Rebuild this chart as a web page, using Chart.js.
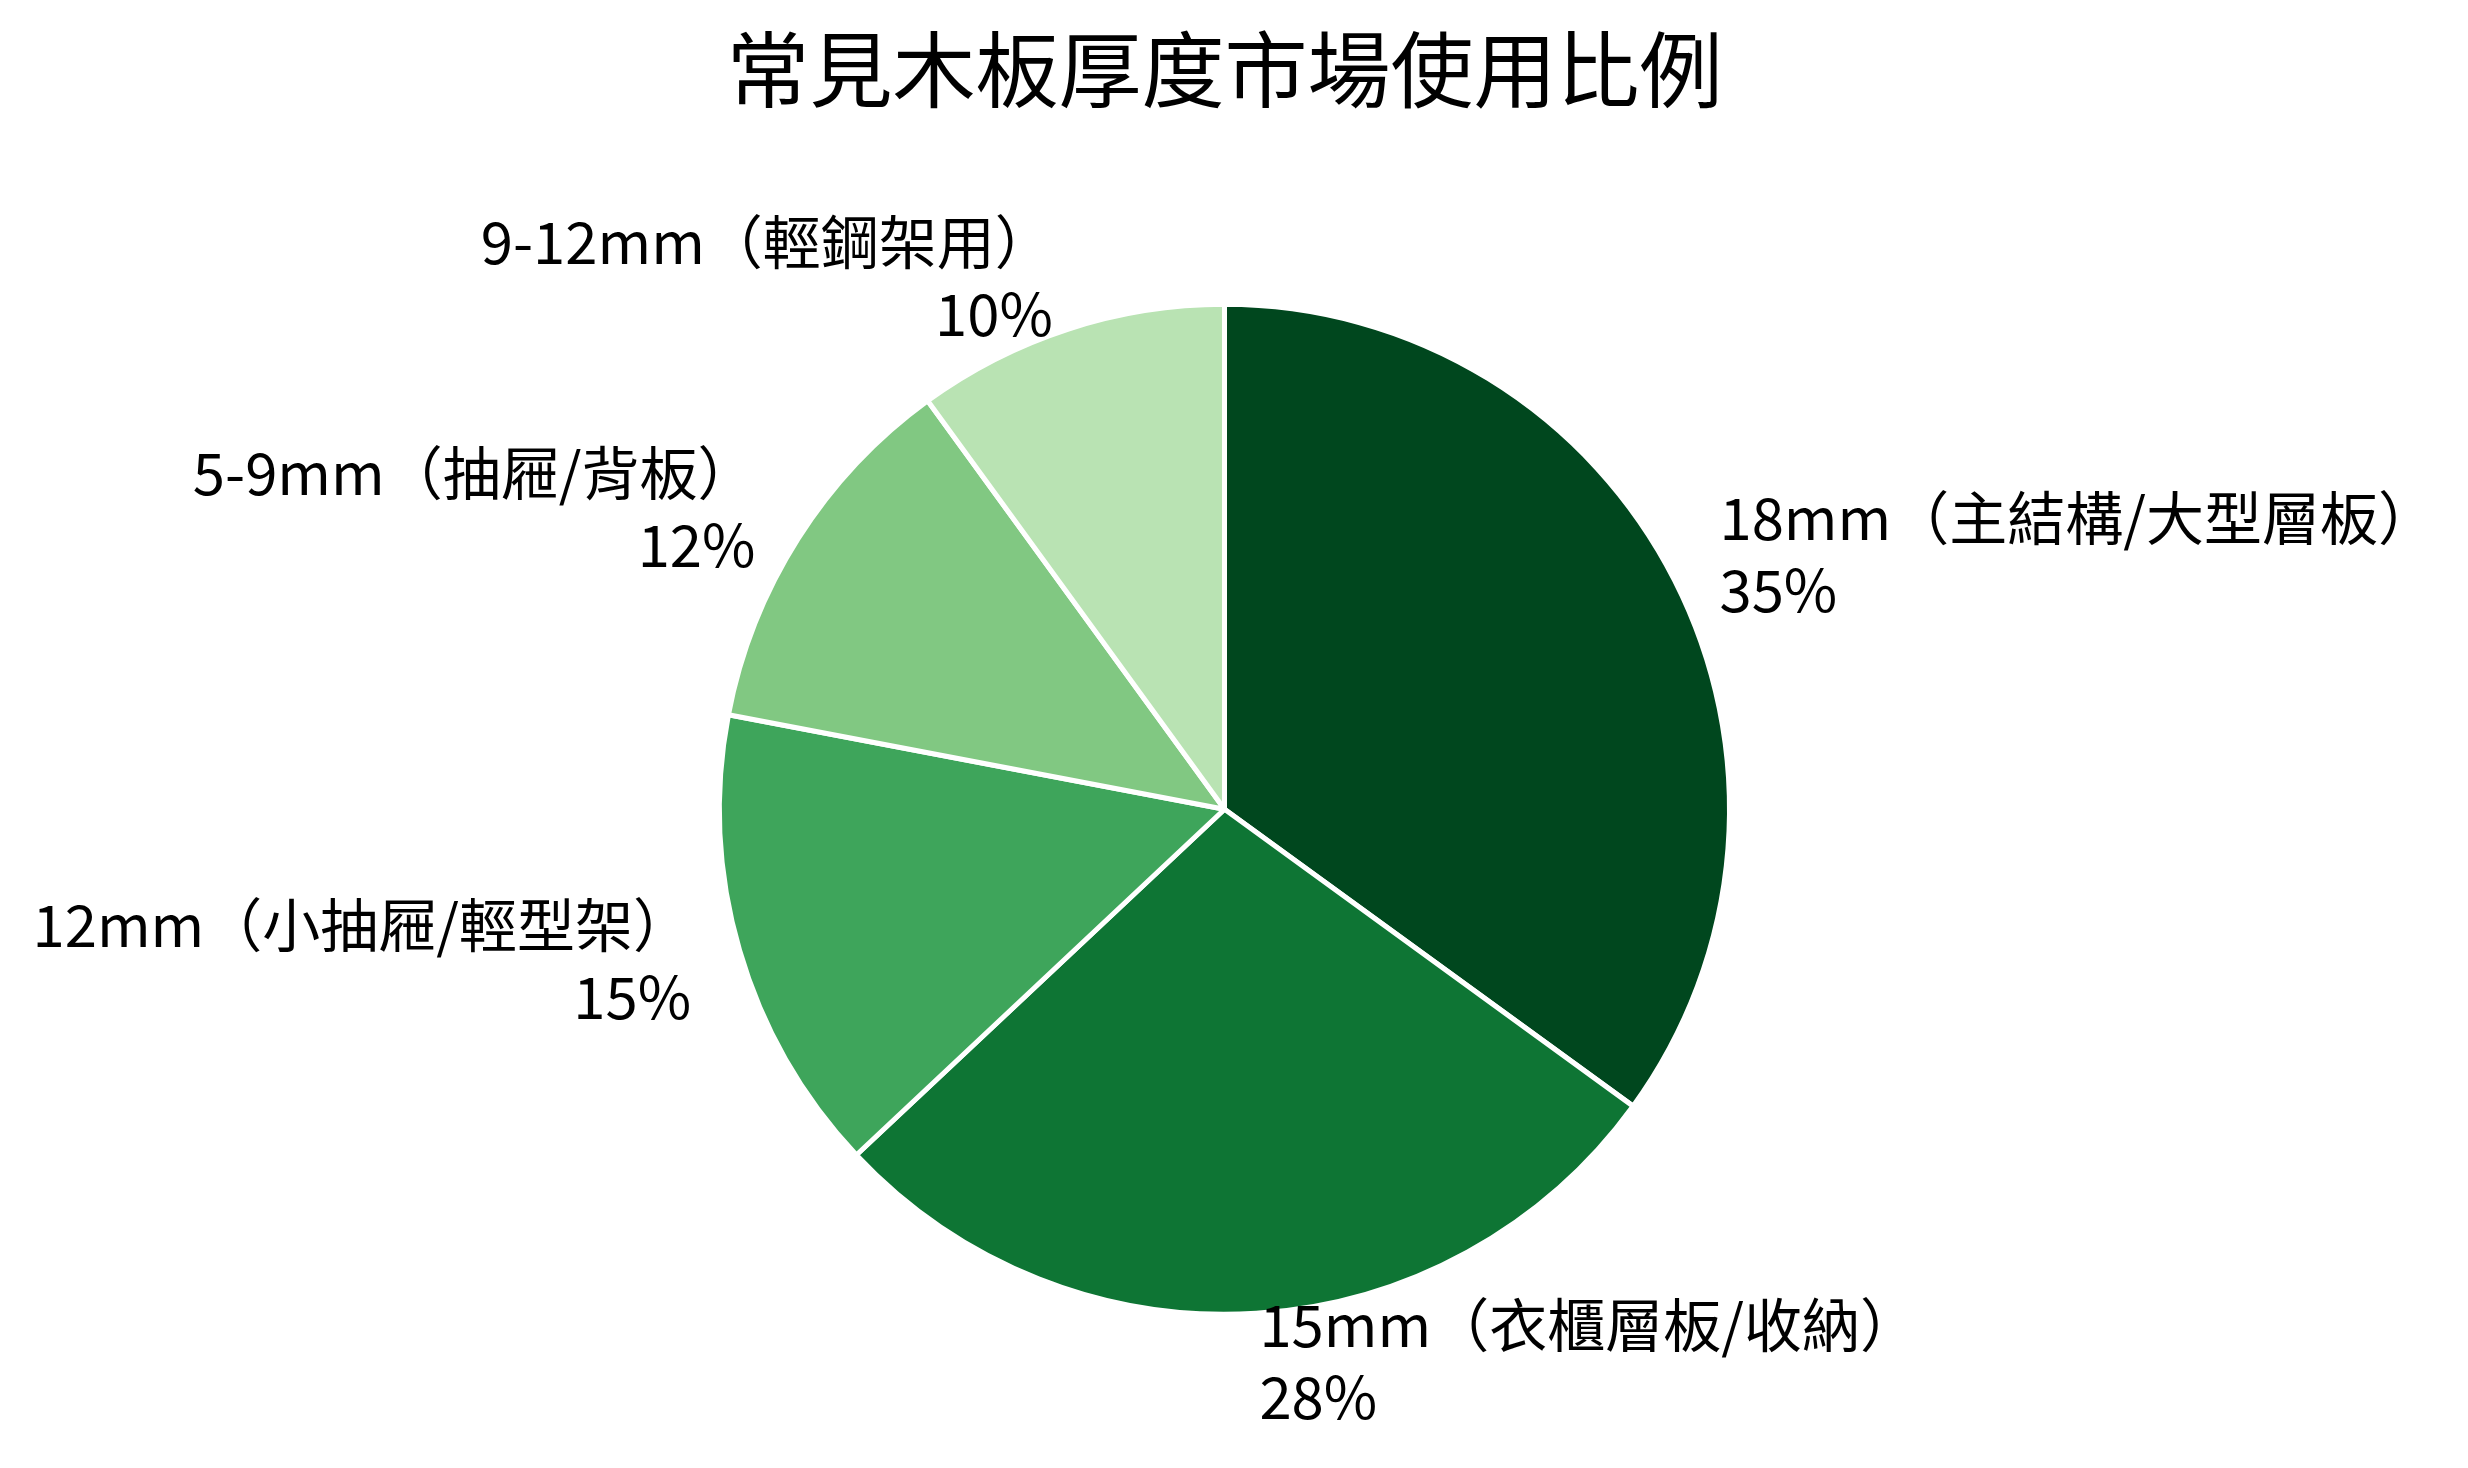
<!DOCTYPE html>
<html>
<head>
<meta charset="utf-8">
<script src="https://cdn.jsdelivr.net/npm/chart.js@4/dist/chart.umd.min.js"></script>
<style>
  html, body { margin: 0; padding: 0; background: #ffffff; }
  canvas { display: block; }
</style>
</head>
<body>
<canvas id="myChart" width="2468" height="1468"></canvas>
<script>
// 木板厚度資料
let chartTitle = "常見木板厚度市場使用比例";
let categories = [
  "18mm（主結構/大型層板）",
  "15mm（衣櫃層板/收納）",
  "12mm（小抽屜/輕型架）",
  "5-9mm（抽屜/背板）",
  "9-12mm（輕鋼架用）",
];
let shares = [35, 28, 15, 12, 10];
let colors = ["#00471e", "#0e7534", "#3ea55b", "#81c882", "#b9e3b3"];

const fontFamily = "'Noto Sans CJK TC', 'Noto Sans', sans-serif";

// 標籤畫在扇形外面 (1.1 倍半徑)
const outsideLabels = {
  id: "outsideLabels",
  afterDatasetsDraw(chart) {
    const ctx = chart.ctx;
    const meta = chart.getDatasetMeta(0);
    const total = shares.reduce((a, b) => a + b, 0);
    ctx.save();
    ctx.font = "58px " + fontFamily;
    ctx.fillStyle = "#000000";
    ctx.textBaseline = "middle";
    meta.data.forEach((arc, i) => {
      const p = arc.getProps(["x", "y", "startAngle", "endAngle", "outerRadius"], true);
      const mid = (p.startAngle + p.endAngle) / 2;
      const r = p.outerRadius * 1.1;
      const px = p.x + r * Math.cos(mid);
      const py = p.y + r * Math.sin(mid) - 3;
      ctx.textAlign = Math.cos(mid) >= 0 ? "left" : "right";
      const pct = Math.round((shares[i] / total) * 100) + "%";
      ctx.fillText(categories[i], px, py - 36);
      ctx.fillText(pct, px, py + 36);
    });
    ctx.restore();
  },
};

let ctx = document.getElementById("myChart").getContext("2d");
let myChart = new Chart(ctx, {
  type: "pie",
  data: {
    labels: categories,
    datasets: [
      {
        data: shares,
        backgroundColor: colors,
        borderColor: "#ffffff",
        borderWidth: 5,
        radius: 505,
      },
    ],
  },
  options: {
    responsive: false,
    animation: false,
    devicePixelRatio: 1,
    layout: {
      padding: { top: 0, bottom: 158, left: 0, right: 19 },
    },
    plugins: {
      legend: { display: false },
      tooltip: { enabled: false },
      title: {
        display: true,
        text: chartTitle,
        color: "#000000",
        font: { family: fontFamily, size: 83, weight: "normal", lineHeight: 1.2 },
        padding: { top: 20, bottom: 189 },
      },
    },
  },
  plugins: [outsideLabels],
});
</script>
</body>
</html>
